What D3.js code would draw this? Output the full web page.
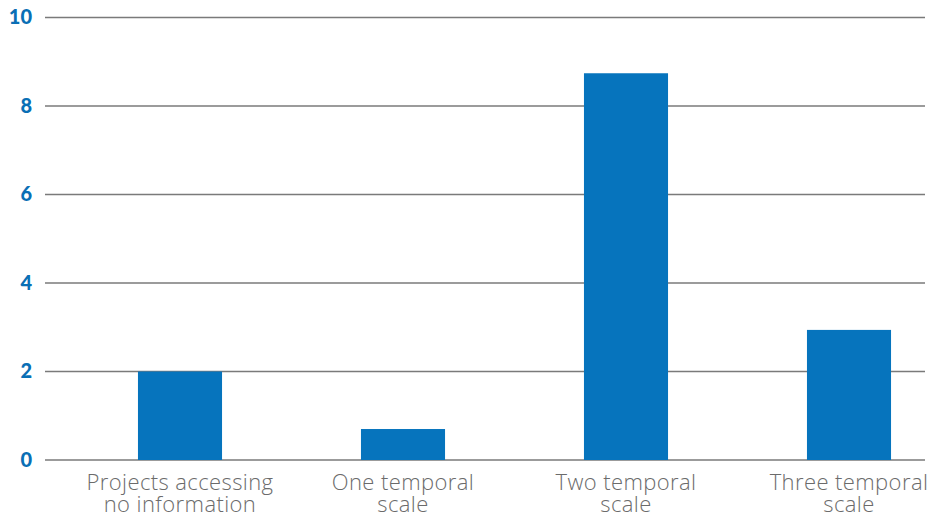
<!DOCTYPE html>
<html><head><meta charset="utf-8">
<script src="https://cdn.jsdelivr.net/npm/d3@7"></script>
<style>body{margin:0;background:#fff}svg{display:block}</style>
</head><body>
<svg id="chart" width="939" height="520"></svg>
<script>
const categories = [["Projects accessing","no information"],["One temporal","scale"],["Two temporal","scale"],["Three temporal","scale"]];
const values = [2.0, 0.7, 8.74, 2.94];
const yTicks = [0, 2, 4, 6, 8, 10];

const svg = d3.select("#chart");
const keys = categories.map(c => c.join(" "));
const x = d3.scaleBand().domain(keys).range([68.5, 960.5]).padding(0);
const y = d3.scaleLinear().domain([0, 10]).range([460, 17.5]);
const gridX0 = 45, gridX1 = 925;
const barW = x.bandwidth() * 0.377;

// gridlines
svg.append("g").selectAll("line").data(yTicks).join("line")
  .attr("x1", gridX0).attr("x2", gridX1)
  .attr("y1", d => y(d)).attr("y2", d => y(d))
  .attr("stroke", "#7a7a7a").attr("stroke-width", 1.4);

// y tick labels
const yAxis = d3.axisLeft(y).tickValues(yTicks).tickSize(0).tickPadding(0);
const ya = svg.append("g").attr("transform", "translate(32,0)").call(yAxis);
ya.select(".domain").remove();
ya.selectAll("text").attr("fill", "#0a6fb5").attr("font-family", "Lato, 'Open Sans', sans-serif")
  .attr("font-weight", 900).attr("font-size", 20).attr("dy", "0.3em");

// bars
svg.append("g").selectAll("rect").data(values).join("rect")
  .attr("x", (d, i) => x(keys[i]) + x.bandwidth()/2 - barW/2)
  .attr("width", barW)
  .attr("y", d => y(d))
  .attr("height", d => y(0) - y(d))
  .attr("fill", "#0674bd");

// category labels
const lab = svg.append("g").selectAll("text").data(categories).join("text")
  .attr("x", (d, i) => x(keys[i]) + x.bandwidth()/2)
  .attr("y", 490)
  .attr("text-anchor", "middle")
  .attr("fill", "#6b6b6b")
  .attr("font-family", "'Open Sans', sans-serif")
  .attr("font-weight", 300)
  .attr("letter-spacing", 0.4)
  .attr("font-size", 22);
lab.selectAll("tspan").data(d => d).join("tspan")
  .attr("x", function(){ return this.parentNode.getAttribute("x"); })
  .attr("dy", (d, i) => i === 0 ? 0 : 22)
  .text(d => d);
</script>
</body></html>
